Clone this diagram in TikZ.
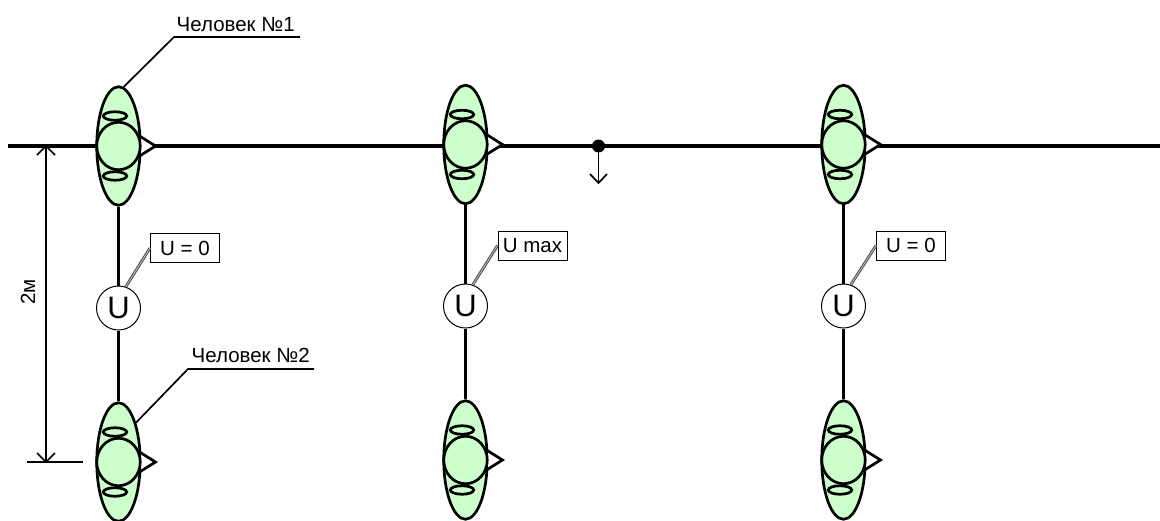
\documentclass[tikz,border=0pt]{standalone}
\usepackage{fontspec}
\setmainfont{Liberation Sans}
\usetikzlibrary{shapes.geometric,calc}
\definecolor{skin}{RGB}{204,255,204}
\tikzset{
  x=1pt,y=-1pt,
  oline/.style={draw=black,line width=2.7pt},
  body/.style={ellipse,oline,fill=skin,minimum width=43.5pt,minimum height=118.5pt,inner sep=0pt},
  headc/.style={ellipse,oline,fill=skin,minimum width=43.5pt,minimum height=47.5pt,inner sep=0pt},
  ear/.style={ellipse,oline,fill=skin,minimum width=23.5pt,minimum height=8.5pt,inner sep=0pt},
  meter/.style={circle,draw=black,line width=1pt,fill=white,minimum size=44pt,inner sep=0pt,font=\fontsize{31}{31}\selectfont},
  tag/.style={rectangle,draw=black,line width=0.9pt,fill=white,minimum width=69pt,minimum height=29pt,inner sep=0pt,font=\fontsize{20.5}{20.5}\selectfont},
  captext/.style={inner sep=0pt,anchor=base west,font=\fontsize{20.5}{20.5}\selectfont},
  wire/.style={draw=black,line width=2.1pt},
  mainw/.style={draw=black,line width=3.1pt},
  leader/.style={draw=black,line width=1.7pt},
  callo/.style={draw=black!75,line width=2.8pt},
  calli/.style={draw=white!70!black,line width=1.1pt},
  openw/.style={line width=1.7pt}
}
\newcommand{\person}[3]{%
  \node[body] (#1b) at (#2,#3) {};
  \draw[oline,fill=white,line join=miter] (#2+21,#3-10) -- (#2+37,#3) -- (#2+21,#3+10) -- cycle;
  \node[ear] (#1u) at (#2-3.5,#3-30) {};
  \node[ear] (#1d) at (#2-3.5,#3+30) {};
  \node[headc] (#1h) at (#2,#3) {};
}
\begin{document}
\begin{tikzpicture}
\useasboundingbox (0,0) rectangle (1160,520);
\coordinate (ls) at (8,146);
\coordinate (le) at (1160,146);
\draw[mainw] (ls) -- (le);
\coordinate (dtop) at (46,146);
\coordinate (dbot) at (46,462);
\coordinate (tl) at (27,462);
\coordinate (tr) at (83,462);
\draw[openw] (dtop) -- (dbot);
\draw[openw] (37,155) -- (dtop) -- (55,155);
\draw[openw] (37,453) -- (dbot) -- (55,453);
\draw[openw] (tl) -- (tr);
\node[rotate=90,inner sep=0pt,font=\fontsize{20.5}{20.5}\selectfont] (dim) at (28,292) {2м};
% verticals and meters
\node[meter] (m1) at (118.5,308) {U};
\node[meter] (m2) at (465.5,306) {U};
\node[meter] (m3) at (843.5,306) {U};
\person{a}{118.5}{146}
\person{b}{118.5}{462}
\person{c}{465.5}{144.5}
\person{d}{465.5}{460}
\person{e}{843.5}{144.5}
\person{f}{843.5}{460}
\draw[wire] (ab.south) -- (m1.north);
\draw[wire] (m1.south) -- (bb.north);
\draw[wire] (cb.south) -- (m2.north);
\draw[wire] (m2.south) -- (db.north);
\draw[wire] (eb.south) -- (m3.north);
\draw[wire] (m3.south) -- (fb.north);
% tags
\node[tag] (t1) at (185,248) {U = 0};
\node[tag] (t2) at (532.5,245.5) {U max};
\node[tag] (t3) at (911,245.5) {U = 0};
\foreach \t/\m in {t1/m1,t2/m2,t3/m3}{
  \draw[callo] (\t.west) -- (\m.71);
  \draw[calli] (\t.west) -- (\m.71);
}
% human labels
\node[captext] (n1) at (176.5,31) {Человек №1};
\node[captext] (n2) at (191.5,362.7) {Человек №2};
\coordinate (k1) at (174,37);
\coordinate (e1) at (300,37);
\coordinate (k2) at (188,369);
\coordinate (e2) at (314,369);
\draw[leader] (ab.85) -- (k1) -- (e1);
\draw[leader] (bb.66) -- (k2) -- (e2);
% tap
\node[circle,fill=black,minimum size=13pt,inner sep=0pt] (dot) at (598.5,146) {};
\coordinate (tip) at (598.5,183);
\draw[openw] (dot.center) -- (tip);
\draw[openw] (590,174) -- (tip) -- (607,174);
\end{tikzpicture}
\end{document}
